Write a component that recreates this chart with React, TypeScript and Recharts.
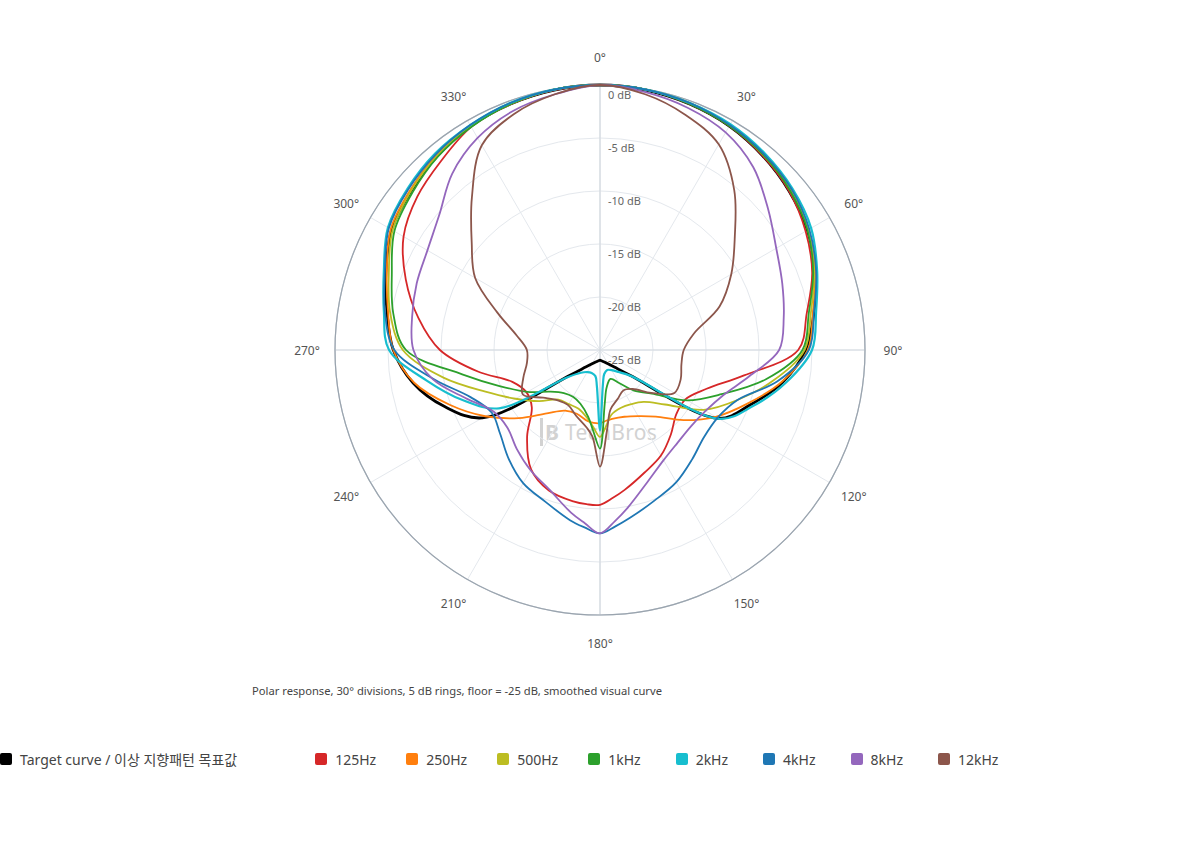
import { PolarAngleAxis, PolarGrid, PolarRadiusAxis, Radar, RadarChart } from "recharts"

// angles in degrees, clockwise from the front (0°); 175/185 added for the narrow rear spikes
const ANGLES = [
  0, 10, 20, 30, 40, 50, 60, 70, 80, 90, 100, 110, 120, 130, 140, 150, 160, 170, 175, 180, 185, 190, 200, 210,
  220, 230, 240, 250, 260, 270, 280, 290, 300, 310, 320, 330, 340, 350,
]

const TARGET = [
  0, -0.1, -0.3, -0.6, -1.1, -1.7, -2.4, -3.4, -4.5, -5.6, -7.5, -9.9, -12.1, -21.3, -22.9, -23.5, -23.8, -23.95,
  -24.0, -24.05, -24.0, -23.95, -23.8, -23.5, -22.9, -21.3, -12.2, -9.4, -7.1, -5.5, -4.6, -3.5, -2.3, -1.7, -1.1,
  -0.6, -0.3, -0.1,
]
const HZ_125 = [
  0, -0.05, -0.3, -0.6, -1.1, -1.7, -2.6, -3.7, -5.2, -6.3, -11.2, -14.3, -15.7, -15.6, -14.6, -13.5, -12.7, -11.6,
  -11.0, -10.4, -10.4, -10.5, -10.9, -12.0, -14.3, -16.6, -17.0, -16.2, -13.3, -9.9, -7.6, -5.5, -3.6, -2.5, -1.7,
  -0.7, -0.3, -0.1,
]
const HZ_250 = [
  0, -0.05, -0.2, -0.5, -1.0, -1.5, -2.3, -3.4, -4.6, -5.4, -7.6, -10.2, -12.4, -14.7, -16.8, -17.8, -18.3, -18.4,
  -18.3, -18.1, -18.1, -18.2, -18.6, -18.4, -17.2, -15.0, -12.5, -9.9, -7.2, -5.5, -4.7, -3.6, -2.2, -1.6, -1.0,
  -0.6, -0.3, -0.05,
]
const HZ_500 = [
  0, -0.05, -0.2, -0.5, -1.0, -1.5, -2.3, -3.5, -4.8, -5.7, -8.4, -11.2, -13.7, -17.0, -18.6, -19.1, -19.2, -18.8,
  -17.9, -16.8, -17.7, -18.4, -19.1, -19.1, -18.9, -17.5, -15.8, -13.5, -10.0, -6.4, -4.9, -3.8, -2.4, -1.7, -1.1,
  -0.6, -0.3, -0.05,
]
const KHZ_1 = [
  0, -0.05, -0.3, -0.6, -1.0, -1.6, -2.4, -3.6, -5.0, -5.9, -9.1, -12.8, -15.5, -18.6, -20.0, -21.4, -22.1, -21.4,
  -19.9, -15.7, -17.4, -18.6, -19.6, -19.9, -19.7, -18.9, -17.1, -15.0, -11.8, -6.7, -5.2, -4.1, -2.6, -1.9, -1.2,
  -0.7, -0.3, -0.05,
]
const KHZ_2 = [
  0, -0.05, -0.2, -0.4, -0.8, -1.3, -2.0, -3.2, -4.3, -5.0, -7.2, -9.6, -12.0, -21.2, -22.3, -22.8, -23.0, -22.7,
  -21.8, -17.4, -21.6, -22.5, -22.7, -22.6, -22.2, -21.0, -14.0, -11.2, -8.4, -5.1, -4.3, -3.3, -1.9, -1.3, -0.8,
  -0.5, -0.2, -0.05,
]
const KHZ_4 = [
  0, -0.05, -0.2, -0.5, -0.9, -1.4, -2.2, -3.3, -4.5, -5.3, -8.0, -11.2, -12.2, -12.2, -11.5, -10.6, -9.9, -8.9,
  -8.3, -7.7, -8.2, -8.7, -9.8, -10.5, -11.6, -12.7, -13.2, -12.0, -9.1, -5.6, -4.4, -3.4, -2.0, -1.4, -0.9, -0.5,
  -0.2, -0.05,
]
const KHZ_8 = [
  0, -0.3, -0.7, -1.3, -2.5, -4.3, -5.8, -6.7, -7.4, -8.1, -10.7, -12.6, -13.5, -13.8, -13.6, -13.0, -11.8, -9.9,
  -8.8, -7.7, -8.6, -9.4, -11.0, -11.9, -12.8, -13.6, -13.4, -11.6, -9.0, -7.4, -7.0, -6.6, -6.2, -5.2, -3.3, -1.9,
  -1.0, -0.5,
]
const KHZ_12 = [
  0, -0.5, -1.4, -2.6, -5.3, -8.4, -10.7, -13.0, -16.0, -17.1, -17.2, -16.9, -16.9, -18.7, -20.2, -20.6, -20.1,
  -19.3, -17.4, -14.0, -16.8, -17.6, -18.4, -19.0, -18.8, -18.0, -16.6, -17.3, -18.0, -18.1, -17.0, -14.7, -11.4,
  -9.2, -6.2, -2.7, -1.3, -0.5,
]

const RADIUS_TICKS = [-25, -20, -15, -10, -5, 0]
const ANGLE_TICKS = [0, 30, 60, 90, 120, 150, 180, 210, 240, 270, 300, 330]

const SERIES = [
  { key: "target", name: "Target curve / 이상 지향패턴 목표값", color: "#000000", width: 2.8, values: TARGET },
  { key: "hz125", name: "125Hz", color: "#d62728", width: 1.8, values: HZ_125 },
  { key: "hz250", name: "250Hz", color: "#ff7f0e", width: 1.8, values: HZ_250 },
  { key: "hz500", name: "500Hz", color: "#bcbd22", width: 1.8, values: HZ_500 },
  { key: "k1", name: "1kHz", color: "#2ca02c", width: 1.8, values: KHZ_1 },
  { key: "k2", name: "2kHz", color: "#17becf", width: 2.2, values: KHZ_2 },
  { key: "k4", name: "4kHz", color: "#1f77b4", width: 1.8, values: KHZ_4 },
  { key: "k8", name: "8kHz", color: "#9467bd", width: 1.8, values: KHZ_8 },
  { key: "k12", name: "12kHz", color: "#8c564b", width: 1.8, values: KHZ_12 },
]

const data = ANGLES.map((angle, i) => {
  const row: Record<string, number> = { angle }
  SERIES.forEach((s) => {
    row[s.key] = s.values[i]
  })
  return row
})

const CX = 600
const CY = 350
const OUTER = 265
const FONT = '"Noto Sans", "Noto Sans CJK KR", sans-serif'

// closed centripetal Catmull-Rom through the radar points the library computed
function smoothClosed(points: { x: number; y: number }[]) {
  const n = points.length
  if (n < 3) return ""
  const dist = (a: { x: number; y: number }, b: { x: number; y: number }) =>
    Math.max(Math.sqrt(Math.hypot(b.x - a.x, b.y - a.y)), 1e-3)
  let d = `M${points[0].x},${points[0].y}`
  for (let i = 0; i < n; i++) {
    const p0 = points[(i - 1 + n) % n]
    const p1 = points[i]
    const p2 = points[(i + 1) % n]
    const p3 = points[(i + 2) % n]
    const d1 = dist(p0, p1)
    const d2 = dist(p1, p2)
    const d3 = dist(p2, p3)
    const a = 2 * d1 * d1 + 3 * d1 * d2 + d2 * d2
    const b = 3 * d1 * (d1 + d2)
    const c = 2 * d3 * d3 + 3 * d3 * d2 + d2 * d2
    const e = 3 * d3 * (d3 + d2)
    const c1x = (d1 * d1 * p2.x - d2 * d2 * p0.x + a * p1.x) / b
    const c1y = (d1 * d1 * p2.y - d2 * d2 * p0.y + a * p1.y) / b
    const c2x = (d3 * d3 * p1.x - d2 * d2 * p3.x + c * p2.x) / e
    const c2y = (d3 * d3 * p1.y - d2 * d2 * p3.y + c * p2.y) / e
    d += ` C${c1x},${c1y} ${c2x},${c2y} ${p2.x},${p2.y}`
  }
  return d + " Z"
}

function AngleTick(props: any) {
  const { x, y, payload } = props
  const dx = x - CX
  const dy = y - CY
  const len = Math.hypot(dx, dy) || 1
  const r = OUTER + 28
  return (
    <text
      x={CX + (dx / len) * r}
      y={CY + (dy / len) * r}
      textAnchor="middle"
      dominantBaseline="central"
      fontSize={12}
      fill="#555"
      fontFamily={FONT}
    >
      {payload.value}°
    </text>
  )
}

function RadiusTick(props: any) {
  const { x, y, payload } = props
  return (
    <text x={x + 8} y={y + 9.5} dominantBaseline="central" fontSize={11} fill="#666" fontFamily={FONT}>
      {payload.value} dB
    </text>
  )
}

export default function App() {
  return (
    <div style={{ position: "absolute", left: 0, top: 0, width: 1200, height: 860, fontFamily: FONT, background: "#fff" }}>
      <div
        style={{
          position: "absolute",
          left: 540,
          top: 418,
          fontSize: 21,
          color: "#c4c4c4",
          opacity: 0.75,
          letterSpacing: 0.3,
        }}
      >
        <span style={{ fontWeight: 700, borderLeft: "3px solid #c4c4c4", paddingLeft: 2 }}>B</span> TechBros
      </div>
      <div style={{ position: "absolute", left: 0, top: 0 }}>
        <RadarChart width={1200} height={700} data={data} cx={CX} cy={CY} outerRadius={OUTER} margin={{ top: 0, right: 0, bottom: 0, left: 0 }}>
          <PolarGrid gridType="circle" stroke="#e4e8ed" strokeWidth={1} />
          <PolarGrid gridType="circle" polarRadius={[OUTER]} polarAngles={[90, 0, -90, -180]} stroke="#d3d9e0" strokeWidth={1.2} />
          <PolarGrid gridType="circle" polarRadius={[OUTER]} polarAngles={[]} stroke="#9aa4ae" strokeWidth={1.2} />
          <PolarAngleAxis
            dataKey="angle"
            type="number"
            domain={[0, 360]}
            ticks={ANGLE_TICKS}
            tick={<AngleTick />}
            axisLine={false}
            tickLine={false}
          />
          <PolarRadiusAxis
            angle={90}
            type="number"
            domain={[-25, 0]}
            ticks={RADIUS_TICKS}
            tickCount={6}
            tick={<RadiusTick />}
            axisLine={false}
            tickLine={false}
          />
          {SERIES.map((s) => (
            <Radar
              key={s.key}
              name={s.name}
              dataKey={s.key}
              stroke={s.color}
              fill="none"
              fillOpacity={0}
              isAnimationActive={false}
              dot={false}
              shape={(p: any) => (
                <path d={smoothClosed(p.points)} fill="none" stroke={s.color} strokeWidth={s.width} strokeLinejoin="round" />
              )}
            />
          ))}
        </RadarChart>
      </div>
      <div style={{ position: "absolute", left: 252, top: 683, fontSize: 11.2, color: "#444", whiteSpace: "nowrap" }}>
        Polar response, 30° divisions, 5 dB rings, floor = -25 dB, smoothed visual curve
      </div>
      <div style={{ position: "absolute", left: 0, top: 749, display: "flex", alignItems: "center", fontSize: 14, color: "#444", whiteSpace: "nowrap" }}>
        {SERIES.map((s, i) => (
          <div
            key={s.key}
            style={{ display: "flex", alignItems: "center", marginRight: i === 0 ? 78 : s.name.includes("kHz") ? 35 : 30 }}
          >
            <span style={{ width: 12, height: 12, borderRadius: 2, background: s.color, marginRight: 8, display: "inline-block" }} />
            <span>{s.name}</span>
          </div>
        ))}
      </div>
    </div>
  )
}
